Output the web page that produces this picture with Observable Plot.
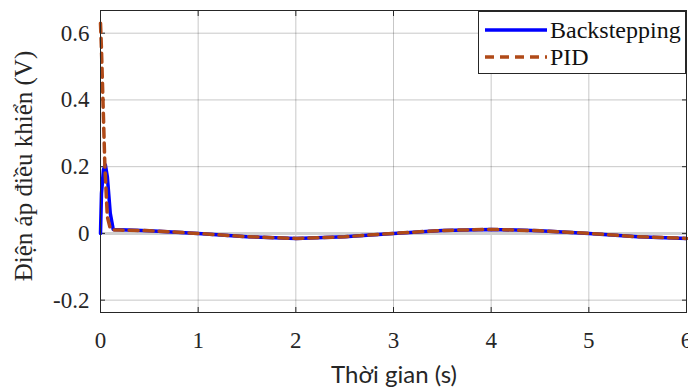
<!DOCTYPE html>
<html>
<head>
<meta charset="utf-8">
<script src="https://cdn.jsdelivr.net/npm/d3@7"></script>
<script src="https://cdn.jsdelivr.net/npm/@observablehq/plot@0.6"></script>
<style>
  html, body { margin: 0; padding: 0; background: #fff; }
  #wrap { position: relative; width: 688px; height: 391px; }
  #legend { position: absolute; left: 478px; top: 11px; width: 208px; height: 63px;
    border: 1px solid #262626; background: #fff; box-sizing: border-box;
    font-family: "Liberation Serif", "Times New Roman", serif; font-size: 24px; color: #111; }
  .row { position: absolute; left: 6px; height: 28px; display: flex; align-items: center; }
  .row span { margin-left: 3px; }
</style>
</head>
<body>
<div id="wrap"></div>
<script>
// Time samples (s) and control voltage (V)
const tBackstepping = [0, 0.01, 0.03, 0.05, 0.07, 0.1, 0.13, 0.2, 0.5, 1, 1.5, 2, 2.5, 3, 3.5, 4, 4.5, 5, 5.5, 6];
const uBackstepping = [0, 0.12, 0.19, 0.205, 0.17, 0.06, 0.012, 0.011, 0.008, 0.0, -0.01, -0.015, -0.01, 0, 0.009, 0.012, 0.008, 0, -0.01, -0.015];
const tPID = [0, 0.01, 0.025, 0.045, 0.07, 0.1, 0.13, 0.2, 0.5, 1, 1.5, 2, 2.5, 3, 3.5, 4, 4.5, 5, 5.5, 6];
const uPID = [0.63, 0.55, 0.4, 0.2, 0.05, 0.015, 0.01, 0.01, 0.008, 0.0, -0.01, -0.015, -0.01, 0, 0.009, 0.012, 0.008, 0, -0.01, -0.015];
const xTicks = [0, 1, 2, 3, 4, 5, 6];
const yTicks = [-0.2, 0, 0.2, 0.4, 0.6];
const seriesNames = ["Backstepping", "PID"];
const seriesColors = ["#0000ff", "#b04a18"];
const xLabel = "Thời gian (s)";
const yLabel = "Điện áp điều khiển (V)";

const bs = tBackstepping.map((t, i) => ({t, u: uBackstepping[i]}));
const pid = tPID.map((t, i) => ({t, u: uPID[i]}));

const serif = "Liberation Serif, Times New Roman, serif";

const chart = Plot.plot({
  width: 688,
  height: 391,
  marginLeft: 100,
  marginRight: 2,
  marginTop: 10,
  marginBottom: 79,
  style: {fontFamily: serif, fontSize: "23px", color: "#262626", background: "#fff"},
  x: {domain: [0, 6], ticks: xTicks, label: null},
  y: {domain: [-0.237, 0.668], ticks: yTicks, label: null},
  marks: [
    Plot.gridX(xTicks, {stroke: "#000", strokeOpacity: 0.22}),
    Plot.gridY(yTicks, {stroke: "#000", strokeOpacity: 0.22}),
    Plot.ruleY([0], {stroke: "#d0d0d0", strokeWidth: 3}),
    Plot.axisX(xTicks, {anchor: "bottom", tickSize: 0, tickPadding: 19, tickFormat: d => String(d), fill: "#262626"}),
    Plot.axisY(yTicks, {anchor: "left", tickSize: 0, tickPadding: 11, tickFormat: d => String(d), fill: "#262626"}),
    Plot.axisX(xTicks, {anchor: "bottom", tickSize: -5, text: null, stroke: "#262626"}),
    Plot.axisX(xTicks, {anchor: "top", tickSize: -5, text: null, stroke: "#262626"}),
    Plot.axisY(yTicks, {anchor: "left", tickSize: -5, text: null, stroke: "#262626"}),
    Plot.axisY(yTicks, {anchor: "right", tickSize: -5, text: null, stroke: "#262626"}),
    Plot.line(bs, {x: "t", y: "u", stroke: seriesColors[0], strokeWidth: 3.5}),
    Plot.line(pid, {x: "t", y: "u", stroke: seriesColors[1], strokeWidth: 3.5, strokeDasharray: "9,6"}),
    Plot.frame({stroke: "#262626"})
  ]
});

const svg = d3.select(chart);
svg.append("text")
  .attr("x", 394).attr("y", 383)
  .attr("text-anchor", "middle")
  .attr("font-family", "Lato, Calibri, sans-serif")
  .attr("font-size", 24)
  .attr("fill", "#262626")
  .text(xLabel);
svg.append("text")
  .attr("transform", "translate(32,166) rotate(-90)")
  .attr("text-anchor", "middle")
  .attr("font-family", serif)
  .attr("font-size", 25)
  .attr("fill", "#262626")
  .text(yLabel);

const wrap = document.getElementById("wrap");
wrap.appendChild(chart);

const legend = document.createElement("div");
legend.id = "legend";
seriesNames.forEach((name, i) => {
  const row = document.createElement("div");
  row.className = "row";
  row.style.top = (i === 0 ? 4 : 31) + "px";
  const dash = i === 1 ? 'stroke-dasharray="9,6"' : "";
  row.innerHTML = `<svg width="62" height="10"><line x1="0" y1="5" x2="62" y2="5" stroke="${seriesColors[i]}" stroke-width="3.5" ${dash}/></svg><span>${name}</span>`;
  legend.appendChild(row);
});
wrap.appendChild(legend);
</script>
</body>
</html>
